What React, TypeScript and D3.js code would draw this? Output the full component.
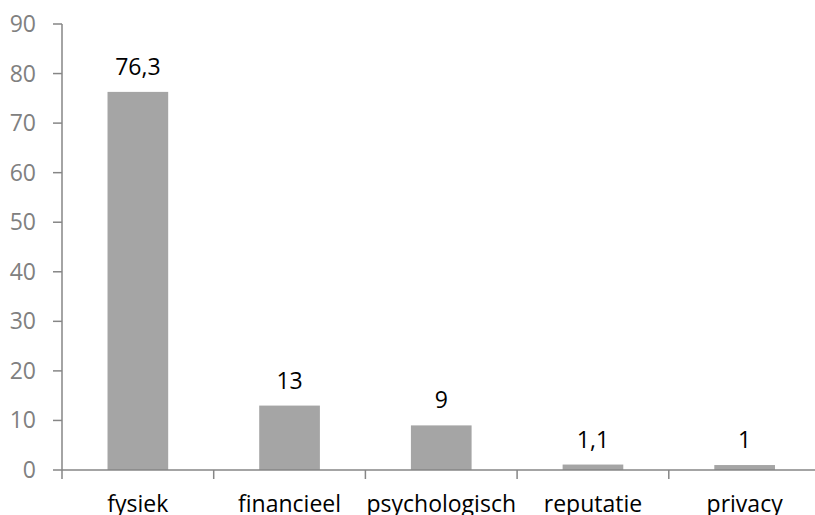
import React from "react";
import * as d3 from "d3";

const categories = ["fysiek", "financieel", "psychologisch", "reputatie", "privacy"];
const values = [76.3, 13, 9, 1.1, 1];
const valueLabels = ["76,3", "13", "9", "1,1", "1"];
const yTicks = [0, 10, 20, 30, 40, 50, 60, 70, 80, 90];

export default function App() {
  const W = 815, H = 515;
  const x0 = 62, y0 = 470, yTop = 24;
  const band = 151.7;
  const x = d3.scaleBand<string>().domain(categories).range([x0, x0 + band * categories.length]).paddingInner(0).paddingOuter(0);
  const y = d3.scaleLinear().domain([0, 90]).range([y0, yTop]);
  const bw = x.bandwidth() / 2.5;
  const font = "'Open Sans', sans-serif";
  const axisColor = "#868686";
  return (
    <svg width={W} height={H} style={{ position: "absolute", left: 0, top: 0 }}>
      <rect width={W} height={H} fill="#fff" />
      {categories.map((c, i) => {
        const cx = (x(c) as number) + x.bandwidth() / 2;
        return (
          <g key={c}>
            <rect x={cx - bw / 2} y={y(values[i])} width={bw} height={y0 - y(values[i])} fill="#a5a5a5" />
            <text x={cx} y={y(values[i]) - 17} textAnchor="middle" fontFamily={font} fontSize={23} fill="#000">{valueLabels[i]}</text>
            <text x={cx} y={y0 + 42} textAnchor="middle" fontFamily={font} fontSize={23} fill="#000">{c}</text>
          </g>
        );
      })}
      <line x1={x0} x2={W} y1={y0} y2={y0} stroke={axisColor} strokeWidth={1.5} />
      <line x1={x0} x2={x0} y1={yTop} y2={y0 + 9} stroke={axisColor} strokeWidth={1.5} />
      {categories.map((c, i) => i === 0 ? null : (
        <line key={c} x1={x(c) as number} x2={x(c) as number} y1={y0} y2={y0 + 9} stroke={axisColor} strokeWidth={1.5} />
      ))}
      {yTicks.map(t => (
        <g key={t}>
          <line x1={x0 - 9} x2={x0} y1={y(t)} y2={y(t)} stroke={axisColor} strokeWidth={1.5} />
          <text x={36} y={y(t) + 8} textAnchor="end" fontFamily={font} fontSize={23} fill="#808080">{t}</text>
        </g>
      ))}
    </svg>
  );
}
